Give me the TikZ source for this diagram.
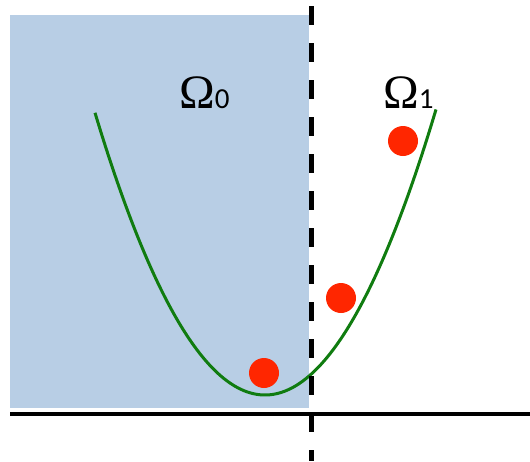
\documentclass[tikz,border=0pt]{standalone}
\usepackage{fontspec}
\setmainfont{Carlito}
\newfontfamily\omegafont{Liberation Serif}
\definecolor{regionblue}{RGB}{184,206,229}
\definecolor{curvegreen}{RGB}{16,124,16}
\definecolor{dotred}{RGB}{255,38,0}
\tikzset{
  region/.style={fill=regionblue, draw=none},
  axisline/.style={line width=4pt, black},
  divider/.style={line width=5pt, black, dash pattern=on 19pt off 18pt},
  curve/.style={line width=3pt, curvegreen},
  dot/.style={circle, fill=dotred, minimum size=30pt, inner sep=0pt},
  omega/.style={anchor=base west, inner sep=0pt}
}
\begin{document}
\begin{tikzpicture}[x=1pt,y=-1pt]
\useasboundingbox (0,0) rectangle (530,461);
\fill[region] (10,15) rectangle (309,408);
\coordinate (axL) at (10,414);
\coordinate (axR) at (530,414);
\coordinate (dvT) at (311,6);
\coordinate (dvB) at (311,461);
\draw[curve] plot[domain=95:436, samples=120, smooth] (\x, {395 - 0.00976*(\x-265)*(\x-265)});
\draw[axisline] (axL) -- (axR);
\draw[divider] (dvT) -- (dvB);
\node[dot] (p1) at (264,373) {};
\node[dot] (p2) at (341,298) {};
\node[dot] (p3) at (403,141) {};
\node[omega] (o0) at (179,108) {\fontsize{48}{48}\omegafont\selectfont Ω\fontsize{29}{29}\rmfamily\selectfont 0};
\node[omega] (o1) at (383,108) {\fontsize{48}{48}\omegafont\selectfont Ω\fontsize{29}{29}\rmfamily\selectfont 1};
\end{tikzpicture}
\end{document}
